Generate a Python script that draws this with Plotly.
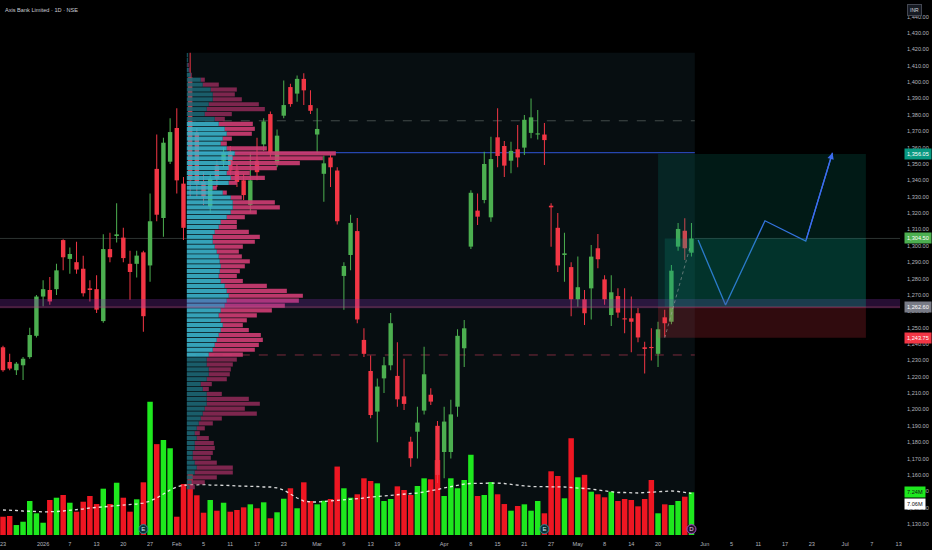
import plotly.graph_objects as go
import numpy as np

title_text = "Axis Bank Limited · 1D · NSE"

opens = [1238, 1229, 1224, 1227, 1232, 1245, 1269, 1273, 1273.5, 1303.5,
         1292, 1290, 1286, 1274, 1273.5, 1254, 1298, 1306, 1305, 1289,
         1289, 1296, 1288, 1347, 1317, 1351.4, 1372, 1338, 1403, 1369,
         1339, 1324, 1349, 1352, 1357.5, 1346, 1340, 1325, 1352, 1362,
         1380.5, 1350.4, 1379.5, 1397, 1393, 1402, 1386, 1368, 1344, 1354,
         1346, 1281.6, 1294.4, 1309, 1242.5, 1223.5, 1198.7, 1219, 1227, 1220.5,
         1208, 1180.3, 1186.4, 1199.3, 1209, 1190, 1174, 1174, 1201.7, 1237.4,
         1299.5, 1321.5, 1328, 1317.4, 1366.3, 1361, 1352, 1359, 1360, 1369,
         1368, 1368, 1324.5, 1311, 1294.4, 1287, 1267.3, 1267.3, 1274, 1298.5,
         1279.5, 1257.7, 1269.3, 1255.5, 1255.7, 1258.8, 1238, 1238, 1234, 1256.3,
         1253.6, 1299.5, 1309.2, 1295.8]
highs = [1239, 1234, 1229, 1232, 1250, 1270, 1279, 1281, 1289, 1304,
         1299, 1302.5, 1294, 1279, 1282, 1307, 1308, 1326, 1311, 1297,
         1297, 1297, 1332, 1368, 1366, 1378, 1384, 1342, 1418, 1372,
         1345, 1344, 1352, 1360, 1361, 1350, 1344, 1357, 1366, 1378,
         1382, 1371, 1401, 1399, 1404, 1405.4, 1395, 1384, 1355, 1356,
         1348, 1290, 1319, 1317, 1249.6, 1233, 1219, 1232, 1259, 1241,
         1231, 1183.4, 1201.7, 1238.4, 1213, 1193, 1201.7, 1206, 1249, 1254.7,
         1334, 1332, 1357.5, 1366.7, 1384, 1364, 1363.6, 1373.8, 1380, 1390,
         1383, 1375, 1326, 1320, 1308, 1290, 1293.4, 1273, 1300.5, 1307.2,
         1282, 1282, 1274, 1274, 1269, 1262, 1241.4, 1249.6, 1253.6, 1261,
         1288.3, 1314, 1316.8, 1314]
lows = [1223, 1224, 1221, 1218, 1231, 1244, 1263, 1264, 1270, 1285,
        1283, 1283, 1269, 1266, 1259, 1253, 1290, 1302, 1290, 1267,
        1280.7, 1247.5, 1278, 1315, 1305.6, 1350, 1332, 1303.5, 1330, 1330,
        1325, 1320, 1336, 1348, 1343, 1336, 1328, 1320, 1340, 1358,
        1354, 1348, 1378, 1385, 1388, 1386, 1380.5, 1356.5, 1327, 1336,
        1313, 1261, 1285, 1252.7, 1232, 1194.6, 1180, 1210, 1224, 1201.7,
        1199.7, 1165, 1170, 1197, 1202.8, 1155, 1158, 1170, 1195.6, 1226,
        1298, 1312.7, 1326, 1314.7, 1348, 1342, 1344.3, 1348, 1355.5, 1365.7,
        1365, 1349.4, 1299.5, 1284, 1278, 1257, 1262.8, 1251.6, 1255, 1286.3,
        1264, 1251, 1256, 1246.5, 1235, 1241, 1222, 1230, 1226, 1244.5,
        1252, 1297, 1291.3, 1293.4]
closes = [1224, 1225, 1228, 1231, 1245.5, 1269, 1273.5, 1266, 1285, 1293,
          1295, 1285.5, 1271, 1273, 1261, 1298, 1293, 1307, 1292.5, 1284,
          1294, 1257, 1315, 1319, 1363, 1369.5, 1340, 1311, 1340, 1338,
          1330, 1341, 1341, 1357, 1346, 1339, 1331, 1340, 1345, 1376,
          1356.5, 1367.3, 1386, 1386.6, 1402, 1395, 1382.5, 1371.4, 1350.4, 1348,
          1315, 1287.7, 1314, 1255, 1234, 1196.6, 1214, 1227, 1252.7, 1206.2,
          1203.4, 1170.2, 1192, 1221.5, 1204.8, 1160, 1192.6, 1197, 1245, 1249.6,
          1332.4, 1317.8, 1350, 1353, 1354.9, 1349, 1358, 1354, 1377, 1378.5,
          1368.7, 1364.6, 1323.5, 1288, 1295.4, 1267.3, 1274.7, 1258.8, 1293.4, 1291.8,
          1267.3, 1271.6, 1259.2, 1255, 1253.6, 1244, 1237, 1237.5, 1249, 1252.7,
          1284.8, 1310.3, 1298.5, 1304.5]

volumes_m = [3.10, 3.22, 1.69, 2.25, 5.76, 3.68, 2.08, 5.93, 6.32, 6.78,
             5.47, 3.95, 5.64, 6.61, 5.25, 7.85, 5.25, 8.86, 6.32, 3.95,
             6.05, 8.93, 22.6, 15.4, 16.1, 14.7, 3.10, 8.64, 10.3, 6.73,
             3.78, 5.93, 4.12, 5.47, 3.95, 4.24, 4.69, 5.20, 4.53, 5.54,
             2.83, 3.85, 6.15, 7.92, 4.53, 8.93, 5.76, 5.20, 5.81, 6.10,
             11.6, 7.92, 6.32, 6.90, 9.61, 9.15, 8.76, 5.76, 6.10, 8.25,
             7.63, 6.78, 8.31, 9.61, 9.44, 12.7, 6.61, 9.61, 7.92, 9.32,
             13.6, 6.61, 6.78, 8.98, 6.90, 5.25, 4.12, 4.92, 5.20, 4.12,
             5.76, 3.68, 10.8, 10.0, 6.22, 16.4, 9.78, 10.2, 7.34, 6.90,
             6.39, 7.34, 5.76, 6.10, 5.93, 4.86, 6.10, 9.32, 3.68, 5.20,
             5.08, 5.76, 6.49, 7.24]

vol_ma_m = [4.24, 4.24, 4.15, 4.07, 4.07, 3.98, 3.90, 3.90, 3.98,
            4.07, 4.15, 4.24, 4.41, 4.58, 4.66, 4.75, 4.83, 4.92, 5.00, 5.08,
            5.25, 5.42, 5.76, 6.27, 6.95, 7.63, 8.14, 8.47,
            8.47, 8.56, 8.56, 8.47, 8.47, 8.47, 8.39, 8.31, 8.31, 8.22, 8.22, 8.14, 8.14,
            7.97, 7.63, 6.95, 6.27, 5.76, 5.59,
            5.59, 5.68, 5.85, 5.93, 6.02, 6.10, 6.19, 6.27, 6.44,
            6.53, 6.61, 6.69, 6.78, 6.86, 6.95, 7.12, 7.29, 7.46,
            7.71, 7.97, 8.22, 8.47, 8.64, 8.73,
            8.76, 8.76, 8.81, 8.81, 8.73, 8.56, 8.39, 8.31,
            8.22, 8.22, 8.22, 8.22, 8.14, 8.14, 8.05, 7.97, 7.97, 7.80,
            7.63, 7.46, 7.29, 7.20, 7.20, 7.12, 7.12, 7.20,
            7.29, 7.37, 7.46, 7.46, 7.37, 7.20, 7.06]

tick_idx = [0, 6, 10, 14, 18, 22, 26, 30, 34, 38, 42, 47, 51, 55, 59, 66, 70, 74,
            78, 82, 86, 90, 94, 98, 105, 109, 113, 117, 121, 126, 130, 134]
tick_text = ["23", "2026", "7", "13", "20", "27", "Feb", "5", "11", "17", "23", "Mar",
             "9", "13", "19", "Apr", "8", "15", "21", "27", "May", "8", "14", "20",
             "Jun", "5", "11", "17", "23", "Jul", "7", "13"]

# Volume profile (fixed range) rows, top to bottom, relative volumes
prof_total = [1, 1, 2, 3, 5, 18, 32, 50, 48, 55, 72, 78, 45, 38, 66, 68, 65, 45, 40, 80,
              149, 136, 113, 90, 63, 78, 50, 30, 40, 55, 88, 93, 70, 58, 50, 50, 62, 73,
              68, 56, 52, 55, 63, 58, 53, 50, 56, 80, 100, 116, 112, 98, 85, 70, 60, 56,
              62, 74, 76, 72, 68, 56, 50, 46, 44, 43, 40, 25, 22, 35, 62, 73, 58, 70, 35,
              26, 18, 13, 22, 27, 28, 26, 24, 30, 46, 46, 30, 18, 8]
prof_up = [1, 1, 1, 2, 4, 14, 16, 24, 26, 26, 22, 20, 18, 28, 32, 38, 40, 36, 34, 40,
           48, 46, 44, 42, 40, 44, 42, 26, 36, 44, 46, 46, 44, 40, 34, 32, 28, 26,
           26, 28, 30, 32, 33, 34, 33, 32, 34, 38, 40, 42, 40, 38, 34, 32, 34, 36,
           34, 32, 30, 28, 26, 22, 20, 20, 22, 22, 20, 14, 16, 20, 20, 20, 18, 16, 14,
           12, 10, 8, 10, 8, 8, 6, 6, 8, 10, 8, 6, 5, 3]
prof_row = 3.0
prof_top_level = 1416.5
range_high = 1418.0
range_start, range_end = 27.5, 103.5
poc_price, vah_price, val_price = 1356.9, 1376.4, 1233.3

zone_low, zone_high = 1261.8, 1267.5

entry_price, target_price, stop_price, last_price = 1262.60, 1356.05, 1243.75, 1304.50
pos_start, pos_fill_start, pos_end = 98.0, 99.0, 129.1

path_idx = [104.0, 108.1, 114.0, 120.1, 124.1]
path_price = [1303.5, 1263.8, 1315.3, 1302.9, 1356.9]

earn_idx = [21, 81]
div_idx = [103]

# ------------------------------------------------------------------
UP, DN = "#4caf50", "#f23645"
VUP, VDN = "#1ee81e", "#ee1622"
FONT = "Liberation Sans"
FS = 5.6
n = len(closes)
idx = list(range(n))
price_range = [1123.3, 1450.2]
vol_range = [0, 90.68]
x_range = [-0.45, 134.2]

fig = go.Figure()

# Volume
vcol = [VUP if c >= o else VDN for o, c in zip(opens, closes)]
fig.add_bar(x=idx, y=volumes_m, marker=dict(color=vcol, line=dict(width=0)),
            width=0.82, yaxis="y", hoverinfo="skip", showlegend=False)

# Candles: wicks (thin bars) then bodies
ccol = [UP if c >= o else DN for o, c in zip(opens, closes)]
fig.add_bar(x=idx, y=[h - l for h, l in zip(highs, lows)], base=lows, width=0.15, yaxis="y2",
            marker=dict(color=ccol, line=dict(width=0)), hoverinfo="skip", showlegend=False)
base = [min(o, c) for o, c in zip(opens, closes)]
hgt = [max(abs(c - o), 0.7) for o, c in zip(opens, closes)]
fig.add_bar(x=idx, y=hgt, base=base, width=0.66, yaxis="y2",
            marker=dict(color=ccol, line=dict(width=0)), hoverinfo="skip", showlegend=False)

# Volume profile
levels = np.arange(prof_top_level, 1151, -prof_row)
scale = 22.3 / max(prof_total)
in_va = [(val_price <= lv <= vah_price) for lv in levels]
up_col = ["#3ab3cb" if v else "#1d6674" for v in in_va]
dn_col = ["#d03d74" if v else "#8a2955" for v in in_va]
up_w = [u * scale for u in prof_up]
dn_w = [(t - u) * scale for t, u in zip(prof_total, prof_up)]
fig.add_bar(y=levels, x=up_w, base=[range_start] * len(levels), orientation="h",
            width=prof_row * 0.85, yaxis="y2", opacity=0.9,
            marker=dict(color=up_col, line=dict(width=0)), hoverinfo="skip", showlegend=False)
fig.add_bar(y=levels, x=dn_w, base=[range_start + w for w in up_w], orientation="h",
            width=prof_row * 0.85, yaxis="y2", opacity=0.9,
            marker=dict(color=dn_col, line=dict(width=0)), hoverinfo="skip", showlegend=False)

# Volume MA
fig.add_scatter(x=idx, y=vol_ma_m, mode="lines", yaxis="y",
                line=dict(color="rgba(255,255,255,0.85)", width=1.3, dash="dot"),
                hoverinfo="skip", showlegend=False)

# Event markers
fig.add_scatter(x=earn_idx, y=[1.0] * len(earn_idx), mode="markers+text", yaxis="y",
                text=["E"] * len(earn_idx), textfont=dict(size=6, color="#cfe8ec"),
                marker=dict(size=9, color="#0c3036", line=dict(color="#2b8a99", width=1)),
                hoverinfo="skip", showlegend=False)
fig.add_scatter(x=div_idx, y=[1.0], mode="markers+text", yaxis="y",
                text=["D"], textfont=dict(size=6, color="#e6d0f0"),
                marker=dict(size=9, color="#25102f", line=dict(color="#a64dc9", width=1)),
                hoverinfo="skip", showlegend=False)

# Projection path
fig.add_scatter(x=path_idx, y=path_price, mode="lines", yaxis="y2",
                line=dict(color="#3d6cf0", width=1.3), hoverinfo="skip", showlegend=False)

shapes = [
    dict(type="rect", xref="x", yref="y2", x0=range_start, x1=range_end,
         y0=price_range[0], y1=range_high, fillcolor="#070e11", line=dict(width=0), layer="below"),
    dict(type="line", xref="paper", yref="y2", x0=0, x1=1, y0=last_price, y1=last_price,
         line=dict(color="rgba(130,150,140,0.35)", width=1), layer="below"),
    dict(type="line", xref="x", yref="y2", x0=range_start, x1=range_end, y0=poc_price, y1=poc_price,
         line=dict(color="rgba(50,90,230,0.75)", width=1.2), layer="below"),
    dict(type="line", xref="x", yref="y2", x0=range_start, x1=range_end, y0=vah_price, y1=vah_price,
         line=dict(color="rgba(140,150,145,0.45)", width=1, dash="dash"), layer="below"),
    dict(type="line", xref="x", yref="y2", x0=range_start, x1=range_end, y0=val_price, y1=val_price,
         line=dict(color="rgba(200,60,90,0.6)", width=1, dash="dash"), layer="below"),
    dict(type="rect", xref="paper", yref="y2", x0=0, x1=1, y0=zone_low, y1=zone_high,
         fillcolor="rgba(125,45,170,0.30)", line=dict(width=0), layer="above"),
    dict(type="rect", xref="x", yref="y2", x0=pos_start, x1=pos_end, y0=entry_price, y1=target_price,
         fillcolor="rgba(8,153,129,0.17)", line=dict(width=0), layer="above"),
    dict(type="rect", xref="x", yref="y2", x0=pos_start, x1=pos_end, y0=stop_price, y1=entry_price,
         fillcolor="rgba(242,54,69,0.20)", line=dict(width=0), layer="above"),
    dict(type="rect", xref="x", yref="y2", x0=pos_fill_start, x1=pos_end, y0=entry_price, y1=last_price,
         fillcolor="rgba(8,153,129,0.20)", line=dict(width=0), layer="above"),
    dict(type="line", xref="paper", yref="y2", x0=0, x1=1, y0=entry_price, y1=entry_price,
         line=dict(color="rgba(200,90,110,0.45)", width=1), layer="above"),
    dict(type="line", xref="x", yref="y2", x0=pos_fill_start, x1=102.8, y0=stop_price, y1=1299.5,
         line=dict(color="rgba(170,170,170,0.55)", width=1, dash="dot"), layer="above"),
]

ann = [
    dict(xref="paper", yref="paper", x=0, y=1, xanchor="left", yanchor="top", xshift=3, yshift=-5,
         text=title_text, showarrow=False, font=dict(size=FS, color="#c9ccd4", family=FONT)),
    dict(xref="paper", yref="paper", x=1, y=1, xanchor="left", yanchor="top", xshift=7, yshift=-4,
         text="INR", showarrow=False, font=dict(size=5, color="#d1d4dc", family=FONT),
         bgcolor="#161a22", bordercolor="#434651", borderwidth=1, borderpad=2),
    dict(x=path_idx[-1], y=path_price[-1], xref="x", yref="y2", ax=path_idx[-2], ay=path_price[-2],
         axref="x", ayref="y2", showarrow=True, arrowhead=2, arrowsize=1, arrowwidth=1.3,
         arrowcolor="#3d6cf0", text=""),
]
badges = [
    (target_price, "y2", "1,356.05", "#089981", "#ffffff", 0),
    (last_price, "y2", "1,304.50", "#4caf50", "#ffffff", 0),
    (entry_price, "y2", "1,262.60", "#787b86", "#ffffff", 0),
    (stop_price, "y2", "1,243.75", "#f23645", "#ffffff", 0),
    (volumes_m[-1], "y", "7.24M", "#1ee81e", "#111111", 0),
    (vol_ma_m[-1], "y", "7.06M", "#ffffff", "#111111", -11),
]
for yv, yr, txt, bg, fc, ys in badges:
    ann.append(dict(xref="paper", yref=yr, x=1, y=yv, xanchor="left", yanchor="middle",
                    xshift=4, yshift=ys, text=txt, showarrow=False,
                    font=dict(size=FS, color=fc, family=FONT),
                    bgcolor=bg, borderpad=2))

fig.update_layout(
    width=932, height=550,
    margin=dict(l=0, r=32, t=0, b=15),
    paper_bgcolor="#000000", plot_bgcolor="#000000",
    barmode="overlay", hovermode=False, showlegend=False,
    font=dict(family=FONT, size=FS, color="#b2b5be"),
    xaxis=dict(range=x_range, tickmode="array", tickvals=tick_idx, ticktext=tick_text,
               showgrid=False, zeroline=False, showline=False, ticks="", automargin=False,
               ticklabeloverflow="allow", ticklabelstandoff=4,
               tickfont=dict(size=FS, color="#b2b5be", family=FONT), fixedrange=True),
    yaxis=dict(range=vol_range, visible=False, fixedrange=True),
    yaxis2=dict(range=price_range, overlaying="y", side="right", dtick=10, tick0=1130,
                tickformat=",.2f", showgrid=False, zeroline=False, showline=False, ticks="",
                automargin=False, ticklabelstandoff=6,
                tickfont=dict(size=FS, color="#b2b5be", family=FONT), fixedrange=True),
    shapes=shapes, annotations=ann,
)

fig.write_html("out.html", config={"staticPlot": True},
               post_script="document.body.style.margin='0px';document.body.style.background='#000';")
